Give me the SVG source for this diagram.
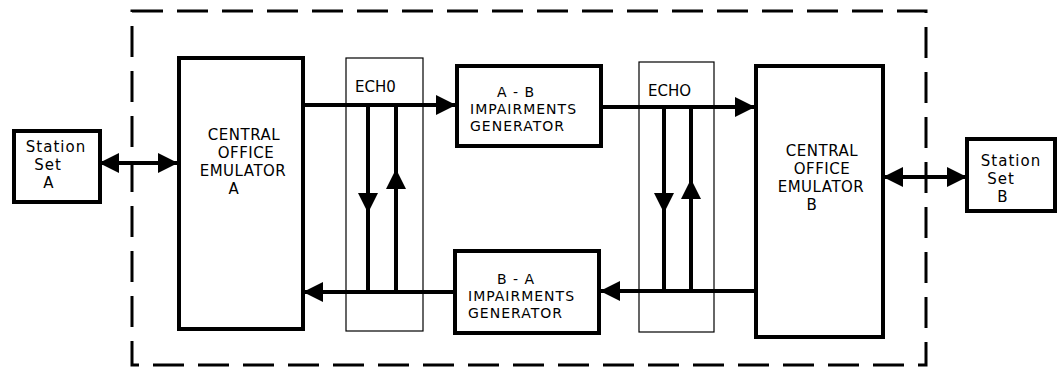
<svg xmlns="http://www.w3.org/2000/svg" width="1058" height="369" viewBox="0 0 1058 369">
<style>
  .box { fill: #fff; stroke: #000; stroke-width: 4; }
  .echo { fill: #fff; stroke: #000; stroke-width: 1.2; }
  .wire { fill: none; stroke: #000; stroke-width: 4; }
  .head { fill: #000; stroke: none; }
  .border { fill: none; stroke: #000; stroke-width: 3; stroke-dasharray: 31 14; }
  text { font-family: "DejaVu Sans", "Liberation Sans", sans-serif; fill: #000; }
  .co { font-size: 15px; letter-spacing: 0.5px; text-anchor: middle; }
  .imp { font-size: 14px; letter-spacing: 1px; }
  .ech { font-size: 15px; }
  .st { font-size: 15px; letter-spacing: 1px; text-anchor: middle; }
</style>
<defs>
  <marker id="ah" markerUnits="userSpaceOnUse" markerWidth="20" markerHeight="20" refX="19" refY="10" orient="auto-start-reverse">
    <path d="M0,0 L20,10 L0,20 Z" fill="#000"/>
  </marker>
</defs>
<rect width="1058" height="369" fill="#fff"/>
<rect class="border" x="132" y="11" width="794" height="354"/>

<g id="echoA">
  <rect class="echo" x="346" y="58" width="77" height="273"/>
  <text class="ech" x="355" y="92">ECH0</text>
</g>
<g id="echoB">
  <rect class="echo" x="639" y="62" width="75" height="270"/>
  <text class="ech" x="648" y="96">ECHO</text>
</g>

<g id="connectors">
  <line class="wire" x1="100" y1="163" x2="177" y2="163" marker-start="url(#ah)" marker-end="url(#ah)"/>
  <line class="wire" x1="884" y1="177" x2="966" y2="177" marker-start="url(#ah)" marker-end="url(#ah)"/>
  <line class="wire" x1="303" y1="105" x2="455" y2="105" marker-end="url(#ah)"/>
  <line class="wire" x1="602" y1="107" x2="754" y2="107" marker-end="url(#ah)"/>
  <line class="wire" x1="755" y1="291" x2="601" y2="291" marker-end="url(#ah)"/>
  <line class="wire" x1="454" y1="292" x2="304" y2="292" marker-end="url(#ah)"/>
  <line class="wire" x1="368" y1="105" x2="368" y2="292"/>
  <line class="wire" x1="396" y1="105" x2="396" y2="292"/>
  <line class="wire" x1="664" y1="107" x2="664" y2="291"/>
  <line class="wire" x1="691" y1="107" x2="691" y2="291"/>
  <polygon class="head" points="358,193 378,193 368,213"/>
  <polygon class="head" points="386,189 406,189 396,169"/>
  <polygon class="head" points="654,193 674,193 664,213"/>
  <polygon class="head" points="681,199 701,199 691,179"/>
</g>

<g id="stationA">
  <rect class="box" x="14" y="131" width="86" height="71"/>
  <text class="st" x="56" y="152">Station</text>
  <text class="st" x="48" y="170">Set</text>
  <text class="st" x="49" y="188">A</text>
</g>
<g id="coA">
  <rect class="box" x="179" y="58" width="124" height="271"/>
  <text class="co" x="244" y="140">CENTRAL</text>
  <text class="co" x="246" y="158">OFFICE</text>
  <text class="co" x="243" y="176">EMULATOR</text>
  <text class="co" x="234" y="194">A</text>
</g>
<g id="impAB">
  <rect class="box" x="457" y="66" width="144" height="80"/>
  <text class="imp" x="497" y="97">A - B</text>
  <text class="imp" x="470" y="114">IMPAIRMENTS</text>
  <text class="imp" x="470" y="131">GENERATOR</text>
</g>
<g id="impBA">
  <rect class="box" x="455" y="251" width="144" height="82"/>
  <text class="imp" x="497" y="284">B - A</text>
  <text class="imp" x="468" y="301">IMPAIRMENTS</text>
  <text class="imp" x="468" y="318">GENERATOR</text>
</g>
<g id="coB">
  <rect class="box" x="756" y="66" width="127" height="271"/>
  <text class="co" x="822" y="156">CENTRAL</text>
  <text class="co" x="822" y="174">OFFICE</text>
  <text class="co" x="821" y="192">EMULATOR</text>
  <text class="co" x="812" y="210">B</text>
</g>
<g id="stationB">
  <rect class="box" x="967" y="139" width="88" height="72"/>
  <text class="st" x="1011" y="166">Station</text>
  <text class="st" x="1001" y="184">Set</text>
  <text class="st" x="1003" y="202">B</text>
</g>
</svg>
